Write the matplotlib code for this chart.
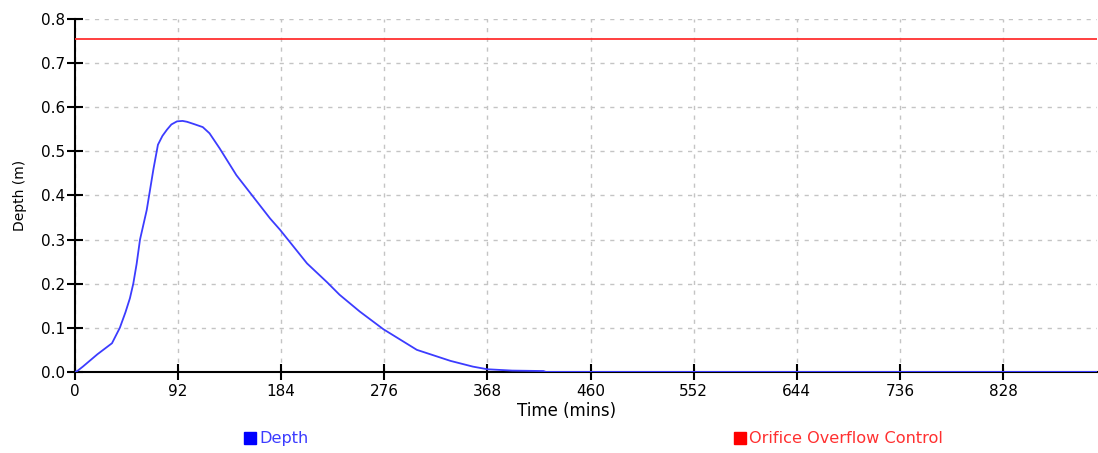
import numpy as np
import matplotlib.pyplot as plt
from matplotlib.lines import Line2D

# time (mins) and depth (m)
time_mins = [0, 2, 7, 20, 33, 40, 45, 49, 52, 55, 58, 64, 70, 74, 78, 82, 86, 91, 96,
             100, 106, 114, 120, 129, 144, 159, 174, 183, 195, 207, 225, 236, 254, 275,
             305, 335, 355, 368, 390, 418, 420, 912]
depth_m = [0.0, 0.002, 0.012, 0.04, 0.065, 0.1, 0.135, 0.167, 0.2, 0.245, 0.3, 0.367,
           0.46, 0.515, 0.535, 0.549, 0.561, 0.568, 0.569, 0.567, 0.562, 0.555, 0.541,
           0.507, 0.446, 0.397, 0.348, 0.322, 0.284, 0.246, 0.203, 0.175, 0.137, 0.097,
           0.05, 0.025, 0.012, 0.006, 0.003, 0.002, 0.0, 0.0]
overflow_level = 0.755

x_ticks = [0, 92, 184, 276, 368, 460, 552, 644, 736, 828]
y_ticks = [0.0, 0.1, 0.2, 0.3, 0.4, 0.5, 0.6, 0.7, 0.8]

plt.rcParams['font.family'] = ['DejaVu Sans']

fig = plt.figure(figsize=(10.98, 4.53), dpi=100)
ax = fig.add_axes([0.0683, 0.179, 0.931, 0.779])

ax.plot(time_mins, depth_m, color='#3c3cff', lw=1.3, zorder=3)
ax.axhline(overflow_level, color='#ff3030', lw=1.3, zorder=3)

ax.set_xlim(0, 912)
ax.set_ylim(0, 0.8)
ax.set_xticks(x_ticks)
ax.set_yticks(y_ticks)
ax.set_yticklabels([f'{v:.1f}' for v in y_ticks])
ax.tick_params(direction='inout', length=11.5, width=1.5, labelsize=11, colors='black')
ax.tick_params(axis='x', pad=3)
ax.tick_params(axis='y', pad=1.5)

ax.grid(True, color='#c4c4c4', ls=(0, (3, 4)), lw=1)
for s in ['top', 'right']:
    ax.spines[s].set_visible(False)
for s in ['left', 'bottom']:
    ax.spines[s].set_linewidth(1.5)

ax.set_xlabel('Time (mins)', fontsize=12, labelpad=3)
ax.xaxis.set_label_coords(0.481, -0.085)
ax.set_ylabel('Depth (m)', fontsize=10, labelpad=10)

handles = [Line2D([], [], marker='s', ls='', color='#0000ff', markersize=8),
           Line2D([], [], marker='s', ls='', color='#ff0000', markersize=8)]
leg = fig.legend(handles, ['Depth', 'Orifice Overflow Control'], ncol=2,
                 loc='center left', bbox_to_anchor=(244 / 1098, 0.031), frameon=False,
                 borderpad=0, borderaxespad=0, handlelength=0.72, handletextpad=0.22,
                 columnspacing=26.4, fontsize=11.6)
leg.get_texts()[0].set_color('#3c3cff')
leg.get_texts()[1].set_color('#ff3030')

fig.savefig('out.png', dpi=100)
